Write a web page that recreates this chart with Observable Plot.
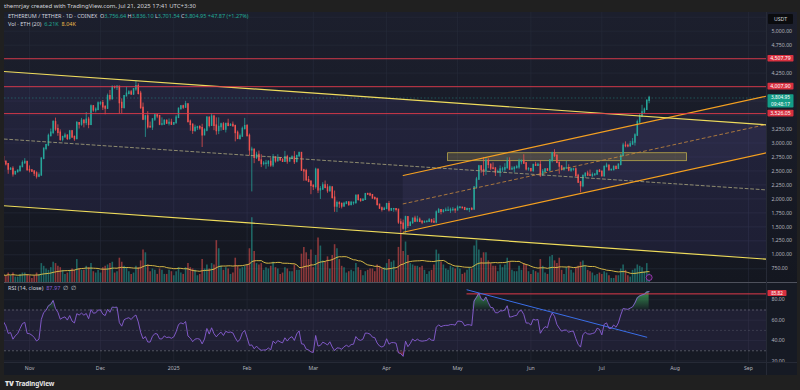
<!DOCTYPE html>
<html><head><meta charset="utf-8">
<script src="https://cdn.jsdelivr.net/npm/d3@7"></script>
<script src="https://cdn.jsdelivr.net/npm/@observablehq/plot@0.6"></script>
<style>
html,body{margin:0;padding:0;background:#202020;width:800px;height:390px;overflow:hidden;font-family:"Noto Sans",Roboto,sans-serif;}
#wrap{position:relative;width:800px;height:390px;overflow:hidden;}
.g{color:#22ab94}
</style></head><body><div id="wrap"></div>
<script>
// ---------------- DATA ----------------
// daily candles ETH/USDT, 2024-10-20 .. 2025-07-21
const firstDay = "2024-10-20";
const preClose = [2560,2615,2580,2645,2650,2580,2630,2695,2680,2655,2600,2445,2365,2350,2415,2415,2440,2425,2440,2370,2385,2435,2475,2470,2630,2605,2610,2600,2645,2650]; // 2024-09-20..10-19 (RSI warm-up only)
const close = [
2745,2665,2620,2525,2535,2440,2480,2505,2570,2640,2660,2515,
2510,2490,2455,2400,2420,2720,2895,2960,3125,3185,3370,3245,3185,3060,3105,3130,3075,3205,3105,3070,3355,3330,3395,3360,3415,3325,3655,3585,3595,3705,
3710,3640,3615,3835,3785,4000,3995,4005,3715,3630,3835,3880,3905,3870,3960,4015,3880,3625,3420,3475,3285,3280,3420,3490,3480,3330,3330,3395,3350,3360,3330,
3355,3450,3610,3655,3635,3690,3380,3325,3220,3270,3280,3265,3140,3225,3450,3310,3470,3310,3215,3285,3330,3240,3340,3310,3320,3300,3180,3075,3115,3250,3300,
3125,2870,2880,2735,2785,2685,2625,2630,2630,2660,2600,2740,2675,2725,2690,2665,2745,2670,2720,2740,2660,2765,2820,2510,2495,2335,2305,2235,
2215,2520,2155,2170,2240,2200,2140,2205,2020,1865,1920,1910,1865,1910,1935,1890,1925,1930,2055,1985,1965,1985,2085,2080,2065,2010,2000,1895,1830,1805,1820,
1905,1795,1815,1815,1805,1580,1555,1470,1670,1520,1570,1645,1595,1625,1590,1580,1585,1590,1615,1585,1580,1755,1795,1770,1785,1790,1790,1800,1800,1795,
1840,1840,1835,1805,1815,1815,1810,2205,2345,2580,2515,2495,2680,2610,2545,2540,2475,2475,2525,2525,2550,2665,2525,2535,2555,2565,2660,2680,2635,2530,2530,
2505,2605,2595,2605,2420,2480,2525,2510,2685,2815,2770,2645,2580,2525,2545,2545,2510,2525,2525,2410,2295,2230,2410,2450,2420,2415,2425,2435,2500,2485,
2405,2570,2595,2515,2515,2570,2540,2610,2770,2950,2945,2940,2975,3010,3135,3370,3475,3545,3595,3756.64,3804.95];
const high = [
2755,2770,2670,2630,2560,2575,2490,2510,2590,2680,2720,2665,
2590,2520,2495,2485,2465,2730,2910,2975,3160,3250,3400,3445,3325,3235,3120,3175,3145,3225,3225,3125,3385,3365,3440,3420,3545,3460,3680,3665,3630,3735,
3740,3760,3670,3875,3940,4020,4015,4020,4010,3790,3845,3995,3935,3940,3970,4107,4060,3925,3715,3495,3560,3375,3435,3520,3510,3490,3450,3415,3410,3430,3425,
3365,3490,3625,3670,3675,3745,3700,3410,3340,3320,3300,3310,3335,3255,3470,3460,3525,3495,3450,3450,3355,3365,3345,3425,3345,3375,3320,3215,3160,3285,3440,
3330,3160,2925,2880,2835,2855,2790,2670,2690,2685,2730,2795,2745,2790,2725,2720,2850,2780,2730,2770,2845,2780,2825,2820,2530,2530,2400,2320,
2245,2550,2525,2220,2290,2320,2260,2230,2210,2140,1960,1950,1920,1940,1945,1940,1955,1935,2060,2070,2000,1995,2090,2100,2105,2075,2035,2010,1900,1855,1850,
1920,1955,1830,1830,1825,1810,1640,1620,1690,1670,1590,1650,1690,1690,1660,1605,1605,1600,1650,1635,1650,1785,1830,1810,1810,1835,1855,1835,1845,1825,
1875,1865,1850,1845,1835,1830,1845,2215,2385,2600,2595,2740,2740,2720,2620,2645,2560,2515,2590,2565,2630,2735,2735,2575,2575,2600,2710,2690,2790,2650,2560,
2545,2610,2655,2640,2685,2525,2535,2540,2690,2835,2880,2780,2650,2580,2565,2675,2610,2550,2545,2555,2440,2305,2425,2460,2495,2515,2465,2445,2505,2525,
2490,2585,2640,2600,2535,2590,2585,2625,2790,2995,3020,2980,3030,3080,3165,3410,3520,3675,3625,3765,3836.10];
const low = [
2640,2655,2590,2440,2510,2390,2430,2465,2475,2560,2615,2495,
2465,2475,2400,2355,2380,2410,2700,2860,2935,3110,3150,3210,3120,3030,3020,3090,3045,3050,3080,3030,3060,3250,3300,3270,3310,3255,3310,3550,3540,3575,
3665,3580,3505,3600,3750,3770,3965,3940,3515,3520,3605,3835,3860,3850,3850,3925,3860,3605,3400,3100,3250,3265,3225,3385,3435,3310,3305,3325,3330,3305,3315,
3320,3350,3440,3590,3600,3620,3355,3210,3155,3190,3225,3230,2920,3130,3200,3270,3300,3220,3140,3150,3210,3225,3180,3290,3300,3290,3020,3060,3050,3110,3240,
3110,2765,2125,2630,2705,2665,2560,2590,2530,2570,2565,2560,2640,2670,2675,2660,2660,2620,2660,2700,2615,2660,2750,2490,2315,2320,2290,2075,
2150,2175,2095,1990,2160,2180,2100,2120,1995,1760,1755,1830,1820,1860,1905,1870,1880,1885,1900,1960,1940,1965,1975,2060,2040,1995,1980,1870,1810,1765,1790,
1820,1765,1775,1760,1765,1545,1385,1440,1385,1470,1505,1545,1575,1590,1585,1540,1565,1575,1580,1570,1565,1555,1750,1715,1745,1775,1785,1740,1770,1740,
1790,1820,1825,1800,1785,1755,1790,1805,2175,2330,2460,2405,2420,2540,2505,2520,2400,2455,2390,2475,2460,2545,2515,2520,2465,2535,2530,2610,2620,2500,2495,
2475,2470,2580,2580,2385,2410,2470,2490,2495,2645,2740,2630,2440,2500,2495,2535,2485,2475,2495,2395,2275,2110,2200,2365,2400,2410,2380,2410,2425,2470,
2400,2395,2560,2495,2495,2505,2520,2535,2590,2755,2915,2915,2930,2960,2945,3115,3340,3455,3520,3585,3701.54];
// volume, thousands of ETH
const vol = [
5,6,5,7,5,7,4,4,6,7,7,6,
5,3,5,7,6,14,12,10,9,11,15,14,12,11,9,6,7,9,10,9,17,10,9,9,12,11,14,8,7,9,
7,11,12,13,14,15,7,8,18,15,12,11,8,6,7,12,11,16,24,22,13,8,10,9,6,10,9,6,6,9,8,
5,8,11,7,6,11,14,11,10,9,5,6,17,10,13,10,14,13,31,25,12,9,11,10,6,7,18,12,10,11,12,
13,25,48,23,14,13,14,9,11,10,12,15,11,10,6,7,11,10,8,8,13,9,9,21,26,22,17,24,
11,20,33,27,16,15,19,10,20,28,25,17,12,11,7,8,9,8,14,11,9,5,8,9,10,10,8,13,12,10,11,
14,17,15,16,9,26,36,23,30,20,14,13,12,12,11,12,9,6,8,9,13,24,21,15,13,10,9,12,11,10,
12,10,6,7,9,11,10,27,31,24,18,22,22,16,14,12,12,8,13,11,13,18,15,9,8,8,12,9,14,13,8,
6,9,8,7,17,12,7,6,19,20,16,14,18,9,6,11,12,9,7,11,12,15,16,12,9,8,7,5,6,7,
6,8,7,5,3,3,5,5,10,13,9,5,4,9,10,13,12,11,8,14,6.21];

// drawings (date, price)
const upperYellow = [["2024-10-19", 4286], ["2025-09-10", 3321]];
const lowerYellow = [["2024-10-19", 1884], ["2025-09-10", 918]];
const grayDashed  = [["2024-10-19", 3077], ["2025-09-10", 2157]];
const orangeUpper = [["2025-04-08", 2419], ["2025-09-10", 3851]];
const orangeLower = [["2025-04-08", 1404], ["2025-09-10", 2836]];
const orangeMid   = [["2025-04-08", 1911], ["2025-09-10", 3344]];
const rangeBox    = [["2025-04-27", "2025-08-06", 2675, 2817]];
const levels      = [4507.79, 4007.90, 3526.05];
const lastPrice   = 3804.95;
const lastTime    = "09:48:17";
const rsiTrend    = [["2025-05-05", 89.8], ["2025-07-20", 43.3]];
const rsiLevel    = [["2025-05-05", 85.82]];

// axes
const priceTicks = [750,1000,1250,1500,1750,2000,2250,2500,2750,3000,3250,4250,4750,5000];
const priceGrid  = [750,1000,1250,1500,1750,2000,2250,2500,2750,3000,3250,3500,3750,4000,4250,4500,4750,5000,5250];
const monthDates = ["2024-11-01","2024-12-01","2025-01-01","2025-02-01","2025-03-01","2025-04-01","2025-05-01","2025-06-01","2025-07-01","2025-08-01","2025-09-01"];
const monthLabels = ["Nov","Dec","2025","Feb","Mar","Apr","May","Jun","Jul","Aug","Sep"];
const rsiTicks = [20,40,60,80];

// ---------------- BUILD ----------------
const D = s => new Date(s + "T00:00Z");
const xDomain = [new Date("2024-10-21T10:18Z"), new Date("2025-09-08T15:05Z")];
const priceDomain = [504.5, 5334.5];
const volDomain = [0, 200];
const rsiDomain = [18.5, 96];
const monthTicks = monthDates.map(D);

const t0 = D(firstDay).getTime();
const ma = vol.map((v, i) => d3.mean(vol.slice(Math.max(0, i - 19), i + 1)));
// RSI(14, close), Wilder smoothing
const allC = preClose.concat(close);
const rsiAll = allC.map(() => null);
let ag = 0, al = 0;
for (let i = 1; i < allC.length; i++) {
  const ch = allC[i] - allC[i - 1], g = Math.max(ch, 0), l = Math.max(-ch, 0);
  if (i <= 14) { ag += g / 14; al += l / 14; if (i === 14) rsiAll[i] = 100 - 100 / (1 + ag / al); }
  else { ag = (ag * 13 + g) / 14; al = (al * 13 + l) / 14; rsiAll[i] = al === 0 ? 100 : 100 - 100 / (1 + ag / al); }
}
const rsi = rsiAll.slice(preClose.length);

const UP = "#26a69a", DN = "#ef5350";
const candles = close.map((c, i) => {
  const o = i === 0 ? preClose[preClose.length - 1] : close[i - 1];
  return {date: new Date(t0 + i * 864e5), open: o, close: c,
    high: Math.max(high[i], o, c), low: Math.min(low[i], o, c),
    vol: vol[i], ma: ma[i], rsi: rsi[i], col: c >= o ? UP : DN};
});
const pts = a => a.map(([d, v]) => ({date: D(d), v}));
const band = (hi, lo) => hi.map(([d, v], i) => ({date: D(d), hi: v, lo: lo[i][1]}));

const font = '"Noto Sans", Roboto, sans-serif';
const baseStyle = {background: "transparent", color: "#b2b5be", fontSize: "5.2px", fontFamily: font, overflow: "visible"};
const wrap = document.getElementById("wrap");
function div(css, html) { const e = document.createElement("div"); e.style.cssText = css; if (html) e.innerHTML = html; wrap.appendChild(e); return e; }
function place(svg, top) { svg.style.position = "absolute"; svg.style.left = "0px"; svg.style.top = top + "px"; wrap.appendChild(svg); }

// frame / backgrounds
div("position:absolute;left:4px;top:12px;width:793px;height:270px;background:linear-gradient(#1c1f2d,#141720);");
div("position:absolute;left:4px;top:282px;width:793px;height:93px;background:#161a24;");

const common = {width: 800, marginLeft: 4, marginRight: 34, marginTop: 0, marginBottom: 0, style: baseStyle};

// main pane: background layer
const mainA = Plot.plot({...common, height: 270,
  x: {type: "utc", domain: xDomain, axis: null},
  y: {domain: priceDomain, axis: "right", ticks: priceTicks, tickFormat: d3.format(",.2f"), tickSize: 0, tickPadding: 5, label: null},
  marks: [
    Plot.ruleY(priceGrid, {stroke: "#272b3a", strokeWidth: 0.6}),
    Plot.ruleX(monthTicks, {stroke: "#272b3a", strokeWidth: 0.6}),
    Plot.areaY(band(upperYellow, lowerYellow), {x: "date", y1: "lo", y2: "hi", fill: "#7a62e0", fillOpacity: 0.1, clip: true}),
    Plot.areaY(band(orangeUpper, orangeLower), {x: "date", y1: "lo", y2: "hi", fill: "#a898ff", fillOpacity: 0.06, clip: true})
  ]});
place(mainA, 12);

// volume layer
const volP = Plot.plot({...common, height: 270,
  x: {type: "utc", domain: xDomain, axis: null},
  y: {domain: volDomain, axis: null},
  marks: [
    Plot.ruleX(candles, {x: "date", y1: 0, y2: "vol", stroke: "col", strokeOpacity: 0.55, strokeWidth: 1.6, clip: true}),
    Plot.line(candles, {x: "date", y: "ma", stroke: "#e9c84a", strokeWidth: 0.9, clip: true}),
    Plot.dot([candles[candles.length - 1]], {x: "date", frameAnchor: "bottom", dy: -5, r: 3, fill: "#2a1838", stroke: "#b040c8", strokeWidth: 0.8})
  ]});
place(volP, 12);

// main pane: drawings + candles
const mainC = Plot.plot({...common, height: 270,
  x: {type: "utc", domain: xDomain, axis: null},
  y: {domain: priceDomain, axis: null},
  marks: [
    Plot.ruleY([lastPrice], {stroke: "#26a69a", strokeOpacity: 0.7, strokeWidth: 0.6, strokeDasharray: "1.5,2"}),
    Plot.rect(rangeBox, {x1: d => D(d[0]), x2: d => D(d[1]), y1: d => d[2], y2: d => d[3], fill: "#c9b64a", fillOpacity: 0.22, stroke: "#b9a84a", strokeWidth: 0.8}),
    Plot.ruleX(candles, {x: "date", y1: "low", y2: "high", stroke: "col", strokeWidth: 0.75, clip: true}),
    Plot.ruleX(candles, {x: "date", y1: "open", y2: "close", stroke: "col", strokeWidth: 1.5, strokeLinecap: "square", clip: true}),
    Plot.line(pts(grayDashed), {x: "date", y: "v", stroke: "#aaa67c", strokeWidth: 0.8, strokeDasharray: "3,2.5", clip: true}),
    Plot.line(pts(orangeMid), {x: "date", y: "v", stroke: "#c98a3c", strokeWidth: 0.8, strokeDasharray: "3,3", clip: true}),
    Plot.line(pts(orangeUpper), {x: "date", y: "v", stroke: "#f5a020", strokeWidth: 1.2, clip: true}),
    Plot.line(pts(orangeLower), {x: "date", y: "v", stroke: "#f5a020", strokeWidth: 1.2, clip: true}),
    Plot.line(pts(upperYellow), {x: "date", y: "v", stroke: "#efdc5c", strokeWidth: 1.2, clip: true}),
    Plot.line(pts(lowerYellow), {x: "date", y: "v", stroke: "#efdc5c", strokeWidth: 1.2, clip: true}),
    Plot.ruleY(levels, {stroke: "#e03a4a", strokeWidth: 1, strokeOpacity: 0.9})
  ]});
place(mainC, 12);

// price labels on the axis
const fmt2 = d3.format(",.2f");
function axisBox(svg, v, bg, lines, w, h, fs, gap) {
  const y = svg.scale("y").apply(v);
  const g = d3.select(svg).append("g").attr("font-family", font).attr("font-size", fs + "px");
  g.append("rect").attr("x", 767.5).attr("y", y - 3.3).attr("width", w).attr("height", h).attr("rx", 0.8).attr("fill", bg);
  lines.forEach((t, i) => g.append("text").attr("x", 767.5 + w / 2).attr("y", y + i * gap).attr("dy", "0.35em").attr("text-anchor", "middle").attr("fill", "#ffffff").text(t));
}
levels.forEach(v => axisBox(mainC, v, "#d8303f", [fmt2(v)], 26, 6.6, 5.2, 0));
axisBox(mainC, lastPrice, "#139c87", [fmt2(lastPrice), lastTime], 26, 13.4, 4.8, 6.6);

// RSI pane
const rsiData = candles.filter(d => d.rsi != null);
const rsiP = Plot.plot({width: 800, height: 92, marginLeft: 4, marginRight: 34, marginTop: 0, marginBottom: 13, style: baseStyle,
  x: {type: "utc", domain: xDomain, ticks: monthTicks, tickFormat: d => monthLabels[monthTicks.findIndex(t => +t === +d)], tickSize: 0, tickPadding: 3.5, label: null},
  y: {domain: rsiDomain, axis: "right", ticks: rsiTicks, tickFormat: d3.format(".2f"), tickSize: 0, tickPadding: 5, label: null},
  marks: [
    () => {
      const defs = d3.create("svg:defs");
      const g1 = defs.append("linearGradient").attr("id", "obG").attr("x1", 0).attr("y1", 0).attr("x2", 0).attr("y2", 1);
      g1.append("stop").attr("offset", "0%").attr("stop-color", "#3fb35e").attr("stop-opacity", 0.8);
      g1.append("stop").attr("offset", "100%").attr("stop-color", "#3fb35e").attr("stop-opacity", 0.05);
      const g2 = defs.append("linearGradient").attr("id", "osG").attr("x1", 0).attr("y1", 1).attr("x2", 0).attr("y2", 0);
      g2.append("stop").attr("offset", "0%").attr("stop-color", "#e0404a").attr("stop-opacity", 0.7);
      g2.append("stop").attr("offset", "100%").attr("stop-color", "#e0404a").attr("stop-opacity", 0.05);
      return defs.node();
    },
    Plot.ruleX(monthTicks, {stroke: "#262a38", strokeWidth: 0.6}),
    Plot.ruleY(rsiTicks, {stroke: "#262a38", strokeWidth: 0.6}),
    Plot.rect([{a: xDomain[0], b: xDomain[1]}], {x1: "a", x2: "b", y1: 30, y2: 70, fill: "#7e57c2", fillOpacity: 0.1}),
    Plot.ruleY([70, 30], {stroke: "#787b86", strokeWidth: 0.6, strokeDasharray: "2,2"}),
    Plot.ruleY([50], {stroke: "#787b86", strokeWidth: 0.6, strokeOpacity: 0.5, strokeDasharray: "2,2"}),
    Plot.areaY(rsiData, {x: "date", y1: 70, y2: d => Math.max(70, d.rsi), fill: "url(#obG)", clip: true}),
    Plot.areaY(rsiData, {x: "date", y1: d => Math.min(30, d.rsi), y2: 30, fill: "url(#osG)", clip: true}),
    Plot.ruleY(rsiLevel, {y: d => d[1], x1: d => D(d[0]), x2: () => xDomain[1], stroke: "#e03a4a", strokeWidth: 1}),
    Plot.line(pts(rsiTrend), {x: "date", y: "v", stroke: "#3a6ee8", strokeWidth: 1}),
    Plot.line(rsiData, {x: "date", y: "rsi", stroke: "#8a5fd6", strokeWidth: 0.9, clip: true})
  ]});
place(rsiP, 283);
axisBox(rsiP, rsiLevel[0][1], "#d8303f", [d3.format(".2f")(rsiLevel[0][1])], 19, 6.0, 4.6, 0);

// separators
div("position:absolute;left:4px;top:282px;width:793px;height:1px;background:#4e515c;");
div("position:absolute;left:4px;top:362px;width:793px;height:1px;background:#262a36;");
div("position:absolute;left:766px;top:12px;width:1px;height:363px;background:#262a36;");
div("position:absolute;left:768px;top:14px;width:25px;height:10px;background:#0b0c0f;border-radius:1px;color:#d1d4dc;font-size:5.2px;line-height:10px;text-align:center;font-family:'Noto Sans',Roboto,sans-serif;", "USDT");

// header / legends / footer
div("position:absolute;left:0;top:0;width:800px;height:12px;background:#202020;");
div("position:absolute;left:4px;top:3px;font-size:6px;color:#d1d4dc;white-space:nowrap;line-height:1;", "themrjay created with TradingView.com, Jul 21, 2025 17:41 UTC+3:30");
div("position:absolute;left:8px;top:14.3px;font-size:5.5px;color:#d1d4dc;white-space:nowrap;line-height:1;",
  `ETHEREUM / TETHER · 1D · COINEX&nbsp; O<span class="g">3,756.64</span> H<span class="g">3,836.10</span> L<span class="g">3,701.54</span> C<span class="g">3,804.95</span> <span class="g">+47.87 (+1.27%)</span>`);
div("position:absolute;left:8px;top:21.8px;font-size:5.5px;color:#d1d4dc;white-space:nowrap;line-height:1;",
  `Vol · ETH (20)&nbsp; <span class="g">6.21K</span>&nbsp; <span style="color:#e9b949">8.04K</span>`);
div("position:absolute;left:8px;top:286.3px;font-size:5.5px;color:#d1d4dc;white-space:nowrap;line-height:1;",
  `RSI (14, close)&nbsp; <span style="color:#8a5fd6">87.97</span>&nbsp; ∅&nbsp; ∅`);
div("position:absolute;left:0;top:375px;width:800px;height:15px;background:#202020;");
div("position:absolute;left:5px;top:379.5px;font-size:6.5px;color:#e6e6e6;white-space:nowrap;line-height:1;font-weight:700;letter-spacing:-0.1px;",
  `<span style="font-weight:900;font-size:7px">TV</span> TradingView`);
</script></body></html>
